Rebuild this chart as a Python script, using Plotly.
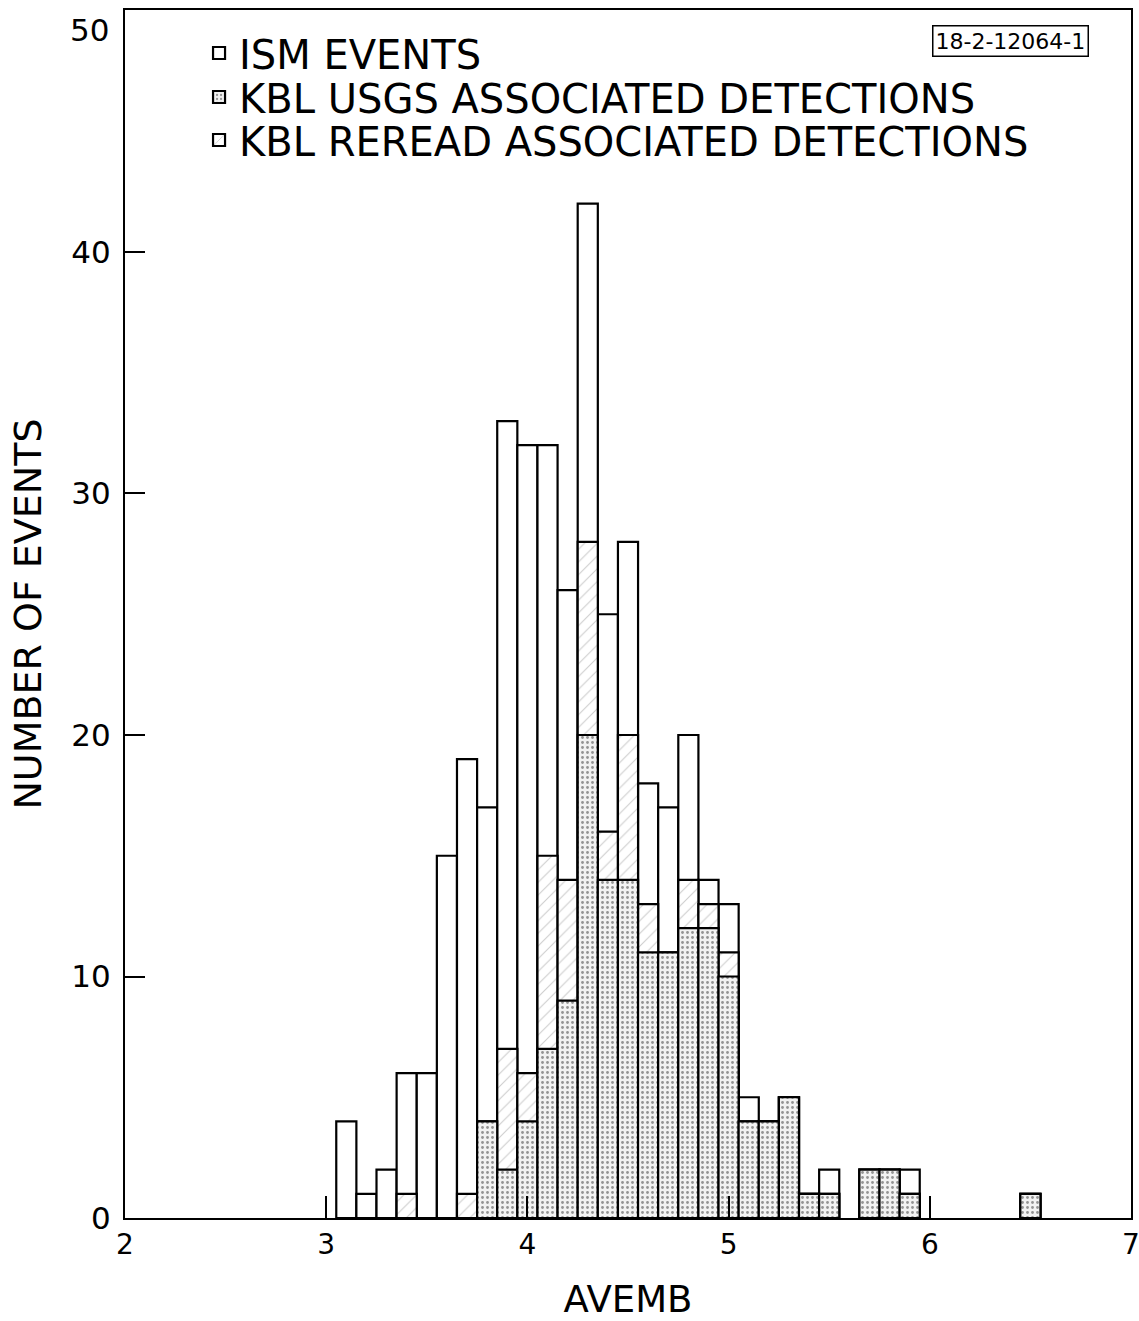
import plotly.graph_objects as go

# Histogram bins (AVEMB bin centers, width 0.1)
bins = [3.1, 3.2, 3.3, 3.4, 3.5, 3.6, 3.7, 3.8, 3.9, 4.0,
        4.1, 4.2, 4.3, 4.4, 4.5, 4.6, 4.7, 4.8, 4.9, 5.0,
        5.1, 5.2, 5.3, 5.4, 5.5, 5.6, 5.7, 5.8, 5.9, 6.0,
        6.1, 6.2, 6.3, 6.4, 6.5]
ism_events = [4, 1, 2, 6, 6, 15, 19, 17, 33, 32,
              32, 26, 42, 25, 28, 18, 17, 20, 14, 13,
              5, 4, 5, 1, 2, 0, 2, 2, 2, 0,
              0, 0, 0, 0, 1]
kbl_usgs = [0, 0, 0, 0, 0, 0, 0, 4, 2, 4,
            7, 9, 20, 14, 14, 11, 11, 12, 12, 10,
            4, 4, 5, 1, 1, 0, 2, 2, 1, 0,
            0, 0, 0, 0, 1]
kbl_reread = [0, 0, 0, 1, 0, 0, 1, 0, 5, 2,
              8, 5, 8, 2, 6, 2, 0, 2, 1, 1,
              0, 0, 0, 0, 0, 0, 0, 0, 0, 0,
              0, 0, 0, 0, 0]

x_ticks = [2, 3, 4, 5, 6, 7]
y_ticks = [0, 10, 20, 30, 40, 50]
y_ticktext = ["0", "10", "20", "30", "40", ""]  # "50" drawn below its tick (see annotation)
y_top_label = "50"


def nz(vals):
    return [v if v > 0 else None for v in vals]


usgs_plus_reread = [u + r for u, r in zip(kbl_usgs, kbl_reread)]

FONT = "DejaVu Sans"
line = dict(color="black", width=2.2)

fig = go.Figure()
fig.add_trace(go.Bar(
    x=bins, y=nz(ism_events), width=0.1, name="ISM EVENTS",
    marker=dict(color="white", line=line), legend="legend", showlegend=True))
fig.add_trace(go.Bar(
    x=bins, y=nz(usgs_plus_reread), width=0.1, name="KBL REREAD ASSOCIATED DETECTIONS",
    marker=dict(color="white", line=line,
                pattern=dict(shape="/", fgcolor="#9a9a9a", bgcolor="white",
                             size=9, solidity=0.12)),
    legend="legend3", showlegend=True))
fig.add_trace(go.Bar(
    x=bins, y=nz(kbl_usgs), width=0.1, name="KBL USGS ASSOCIATED DETECTIONS",
    marker=dict(color="white", line=line,
                pattern=dict(shape=".", fgcolor="#333333", bgcolor="#f2f2f2",
                             size=5, solidity=0.25)),
    legend="legend2", showlegend=True))


def leg(yc):
    return dict(x=0.0736, y=yc, xanchor="left", yanchor="middle",
                bgcolor="rgba(0,0,0,0)", font=dict(size=40, family=FONT),
                itemclick=False, itemdoubleclick=False, visible=True)


fig.update_layout(
    width=1139, height=1321,
    margin=dict(l=125, r=8, t=10, b=103, autoexpand=False),
    barmode="overlay", showlegend=True,
    paper_bgcolor="white", plot_bgcolor="white",
    font=dict(family=FONT, color="black"),
    legend=leg(0.9644),
    legend2=leg(0.928),
    legend3=leg(0.8924),
    annotations=[
        dict(x=0.958, y=0.9745, xref="paper", yref="paper",
             xanchor="right", yanchor="middle", showarrow=False,
             text="18-2-12064-1", font=dict(size=22, family=FONT),
             bordercolor="black", borderwidth=1.5, borderpad=2),
        dict(x=0, y=50, xref="paper", yref="y", xshift=-14,
             xanchor="right", yanchor="top", showarrow=False,
             text=y_top_label, font=dict(size=31, family=FONT)),
    ],
)
fig.update_xaxes(
    range=[2, 7], tickvals=x_ticks, ticks="inside", ticklen=22, tickwidth=2,
    tickcolor="black", showline=True, linecolor="black", linewidth=2,
    mirror=True, showgrid=False, zeroline=False, automargin=False,
    ticklabeloverflow="allow",
    tickfont=dict(size=28), title=dict(text="AVEMB", font=dict(size=37), standoff=30))
fig.update_yaxes(
    range=[0, 50.02], tickvals=y_ticks, ticktext=y_ticktext, ticks="inside",
    ticklen=20, tickwidth=2,
    tickcolor="black", showline=True, linecolor="black", linewidth=2,
    mirror=True, showgrid=False, zeroline=False, automargin=False,
    ticklabeloverflow="allow", ticklabelstandoff=6,
    tickfont=dict(size=31), title=dict(text="NUMBER OF EVENTS", font=dict(size=38), standoff=18))

fig.write_html("out.html", config={"displayModeBar": False},
               post_script="document.body.style.margin='0';")
